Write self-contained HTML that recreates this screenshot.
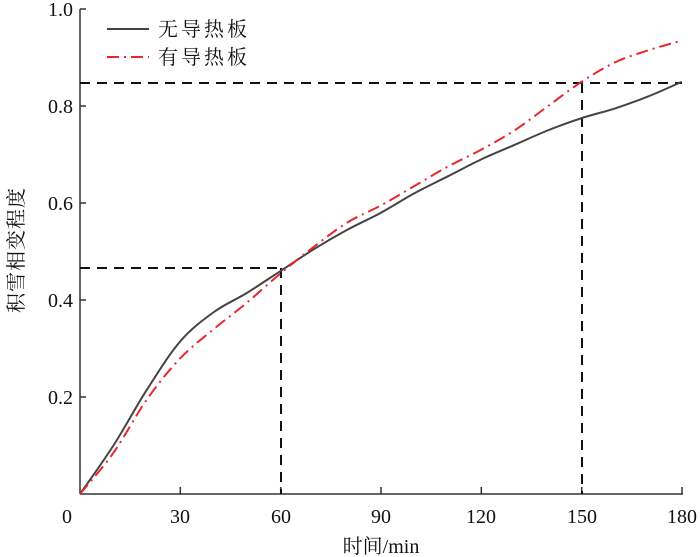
<!DOCTYPE html>
<html><head><meta charset="utf-8"><style>body{margin:0;background:#fff}svg{display:block}</style></head><body>
<svg width="700" height="557" viewBox="0 0 700 557" xmlns="http://www.w3.org/2000/svg" font-family="'Liberation Serif','Noto Serif CJK SC',serif">
<g stroke="#333" stroke-width="1.5" fill="none">
<line x1="80" y1="9" x2="80" y2="494"/>
<line x1="80" y1="494" x2="683" y2="494"/>
<line x1="80" y1="9" x2="86" y2="9"/><line x1="80" y1="106" x2="86" y2="106"/><line x1="80" y1="203" x2="86" y2="203"/><line x1="80" y1="300" x2="86" y2="300"/><line x1="80" y1="397" x2="86" y2="397"/>
<line x1="180.3" y1="494" x2="180.3" y2="487"/><line x1="280.7" y1="494" x2="280.7" y2="487"/><line x1="381" y1="494" x2="381" y2="487"/><line x1="481.3" y1="494" x2="481.3" y2="487"/><line x1="581.7" y1="494" x2="581.7" y2="487"/><line x1="682" y1="494" x2="682" y2="487"/>
</g>
<g stroke="#111" stroke-width="2" stroke-dasharray="10,7" fill="none">
<line x1="80" y1="83" x2="682" y2="83"/>
<line x1="80" y1="268" x2="281" y2="268"/>
<line x1="281" y1="268" x2="281" y2="494"/>
<line x1="582" y1="83" x2="582" y2="494"/>
</g>
<path id="blk" d="" fill="none" stroke="#444" stroke-width="2"/>
<path id="red" d="" fill="none" stroke="#e8262b" stroke-width="2" stroke-dasharray="12,5,2,5"/>
<g font-size="20" fill="#111">
<text x="73" y="16" text-anchor="end">1.0</text>
<text x="73" y="113" text-anchor="end">0.8</text>
<text x="73" y="210" text-anchor="end">0.6</text>
<text x="73" y="307" text-anchor="end">0.4</text>
<text x="73" y="404" text-anchor="end">0.2</text>
<text x="67" y="523" text-anchor="middle">0</text>
<text x="180" y="523" text-anchor="middle">30</text>
<text x="281" y="523" text-anchor="middle">60</text>
<text x="381" y="523" text-anchor="middle">90</text>
<text x="481" y="523" text-anchor="middle">120</text>
<text x="582" y="523" text-anchor="middle">150</text>
<text x="682" y="523" text-anchor="middle">180</text>
<text x="381" y="553" text-anchor="middle">时间/min</text>
<text transform="translate(23,250) rotate(-90)" text-anchor="middle" letter-spacing="1">积雪相变程度</text>
<text x="158" y="36" letter-spacing="3">无导热板</text>
<text x="158" y="64" letter-spacing="3">有导热板</text>
</g>
<line x1="107" y1="29" x2="149" y2="29" stroke="#444" stroke-width="2"/>
<line x1="107" y1="57" x2="149" y2="57" stroke="#e8262b" stroke-width="2" stroke-dasharray="12,5,2,5"/>
</svg>
<script>
function cr(p){var d="M"+p[0][0]+","+p[0][1];for(var i=0;i<p.length-1;i++){var a=p[i-1]||p[i],b=p[i],c=p[i+1],e=p[i+2]||c;d+=" C"+(b[0]+(c[0]-a[0])/6)+","+(b[1]+(c[1]-a[1])/6)+" "+(c[0]-(e[0]-b[0])/6)+","+(c[1]-(e[1]-b[1])/6)+" "+c[0]+","+c[1];}return d;}
function pts(v){return v.map(function(y,i){return [80+3.344*10*i,494-485*y];});}
document.getElementById("blk").setAttribute("d",cr(pts([0,.1,.215,.315,.375,.415,.46,.505,.545,.58,.62,.655,.69,.72,.75,.775,.795,.82,.85])));
document.getElementById("red").setAttribute("d",cr(pts([0,.085,.195,.28,.34,.395,.455,.51,.56,.595,.635,.675,.71,.75,.8,.85,.89,.915,.935])));
</script>
</body></html>
